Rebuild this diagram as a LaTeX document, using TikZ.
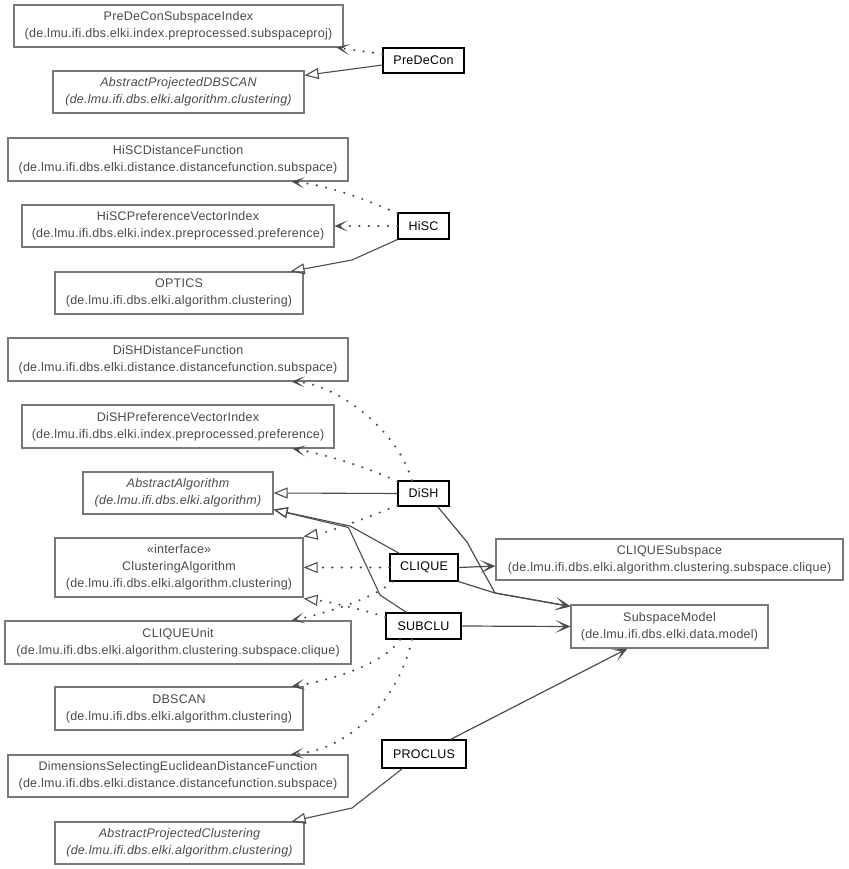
\documentclass[tikz,border=0pt]{standalone}
\usepackage{fontspec}
\setmainfont{Liberation Sans}[LetterSpace=2,Ligatures=NoCommon]
\usetikzlibrary{arrows.meta,calc}
\definecolor{boxgray}{HTML}{787878}
\definecolor{txtgray}{HTML}{4A4A4A}
\definecolor{edgegray}{HTML}{4C4C4C}
\tikzset{
  cls/.style={draw=boxgray, line width=1.2pt, text=txtgray, align=center, inner sep=0pt,
    font=\fontsize{12.5}{17}\selectfont, minimum height=42pt},
  alg/.style={draw=black, line width=1.2pt, text=black, inner sep=0pt,
    font=\fontsize{12.5}{14}\selectfont},
  dep/.style={edgegray, line width=2.4pt, line cap=round, dash pattern=on 0pt off 9.5pt,
    -{Stealth[length=13pt,width=11pt,inset=8pt,line width=0.5pt]}},
  depinh/.style={edgegray, line width=2.4pt, line cap=round, dash pattern=on 0pt off 9.5pt,
    -{Triangle[open,length=14pt,width=11pt,line width=1.1pt]}},
  inh/.style={edgegray, line width=1.1pt, -{Triangle[open,length=14pt,width=11pt,line width=1.1pt]}},
  assoc/.style={edgegray, line width=1.2pt, -{Stealth[length=15pt,width=13pt,inset=9pt]}},
}
\begin{document}
\begin{tikzpicture}[x=1pt,y=-1pt]
\useasboundingbox[fill=white] (0,0) rectangle (848,869);

% class boxes
\node[cls, minimum width=329pt] (psi) at (178.5,26) {PreDeConSubspaceIndex\\(de.lmu.ifi.dbs.elki.index.preprocessed.subspaceproj)};
\node[cls, minimum width=251pt] (apdb) at (178.5,92) {\itshape AbstractProjectedDBSCAN\\\itshape (de.lmu.ifi.dbs.elki.algorithm.clustering)};
\node[cls, minimum width=340pt, minimum height=43pt] (hdf) at (178,159.5) {HiSCDistanceFunction\\(de.lmu.ifi.dbs.elki.distance.distancefunction.subspace)};
\node[cls, minimum width=312pt] (hpvi) at (178,226) {HiSCPreferenceVectorIndex\\(de.lmu.ifi.dbs.elki.index.preprocessed.preference)};
\node[cls, minimum width=248pt] (optics) at (179,293) {OPTICS\\(de.lmu.ifi.dbs.elki.algorithm.clustering)};
\node[cls, minimum width=340pt, minimum height=43pt] (ddf) at (178,359.5) {DiSHDistanceFunction\\(de.lmu.ifi.dbs.elki.distance.distancefunction.subspace)};
\node[cls, minimum width=312pt, minimum height=43pt] (dpvi) at (178,426.5) {DiSHPreferenceVectorIndex\\(de.lmu.ifi.dbs.elki.index.preprocessed.preference)};
\node[cls, minimum width=190pt] (aa) at (178,493) {\itshape AbstractAlgorithm\\\itshape (de.lmu.ifi.dbs.elki.algorithm)};
\node[cls, minimum width=248pt, minimum height=59pt] (ca) at (179,567.5) {«interface»\\ClusteringAlgorithm\\(de.lmu.ifi.dbs.elki.algorithm.clustering)};
\node[cls, minimum width=346pt, minimum height=43pt] (cu) at (178,642.5) {CLIQUEUnit\\(de.lmu.ifi.dbs.elki.algorithm.clustering.subspace.clique)};
\node[cls, minimum width=248pt, minimum height=43pt] (dbscan) at (179,708.5) {DBSCAN\\(de.lmu.ifi.dbs.elki.algorithm.clustering)};
\node[cls, minimum width=340pt] (dsed) at (178,776) {DimensionsSelectingEuclideanDistanceFunction\\(de.lmu.ifi.dbs.elki.distance.distancefunction.subspace)};
\node[cls, minimum width=249pt] (apc) at (179.5,843) {\itshape AbstractProjectedClustering\\\itshape (de.lmu.ifi.dbs.elki.algorithm.clustering)};
\node[cls, minimum width=347pt, minimum height=41pt] (cs) at (669.5,559.5) {CLIQUESubspace\\(de.lmu.ifi.dbs.elki.algorithm.clustering.subspace.clique)};
\node[cls, minimum width=197pt, minimum height=43pt] (sm) at (669.5,626.5) {SubspaceModel\\(de.lmu.ifi.dbs.elki.data.model)};

% algorithm boxes
\node[alg, minimum width=81pt, minimum height=25pt] (predecon) at (423.5,60.5) {PreDeCon};
\node[alg, minimum width=51pt, minimum height=26pt] (hisc) at (423.5,226) {HiSC};
\node[alg, minimum width=51pt, minimum height=25pt] (dish) at (423.5,493.5) {DiSH};
\node[alg, minimum width=68pt, minimum height=27pt] (clique) at (424,567.5) {CLIQUE};
\node[alg, minimum width=75pt, minimum height=26pt] (subclu) at (423.5,626) {SUBCLU};
\node[alg, minimum width=84pt, minimum height=28pt] (proclus) at (424,754) {PROCLUS};

% bend points
\coordinate (b1) at (352,260);
\coordinate (b2) at (350,526);
\coordinate (b3) at (380,595);
\coordinate (b3a) at (348.5,527.5);
\coordinate (b4) at (495,593);
\coordinate (b5) at (467,542);
\coordinate (b6) at (352,808);

% PreDeCon
\draw[dep] ([yshift=6.5pt]predecon.west) -- ([xshift=-7pt]psi.south east);
\draw[inh] ([yshift=-4.5pt]predecon.west) -- ([yshift=-5pt]apdb.north east);

% HiSC
\draw[dep] ([yshift=-1pt]hisc.north west) .. controls +(-25,-11) and +(40,4) .. ([xshift=-57pt]hdf.south east);
\draw[dep] (hisc.west) -- (hpvi.east);
\draw[inh] (hisc.south west) -- (b1) -- ([xshift=-13pt]optics.north east);

% DiSH
\draw[dep] ([xshift=-11.5pt]dish.north) .. controls +(-17,-56) and +(39,1) .. ([xshift=-57pt]ddf.south east);
\draw[dep] ([yshift=-1pt]dish.north west) .. controls +(-25,-12) and +(35,6) .. ([xshift=-42pt]dpvi.south east);
\draw[inh] (dish.west) -- (aa.east);
\draw[depinh] ([yshift=1pt]dish.south west) .. controls +(-20,8) and +(25,-4) .. ([yshift=1pt]ca.north east);
\draw[assoc] ([xshift=-12pt]dish.south east) -- (b5) -- (b4) -- ([yshift=-2pt]sm.north west);

% CLIQUE
\draw[inh] ([xshift=10pt]clique.north west) -- (b2) -- ([yshift=5pt]aa.south east);
\draw[depinh] (clique.west) -- (ca.east);
\draw[dep] ([xshift=3pt]clique.south west) .. controls +(-15,15) and +(35,-7) .. ([xshift=-60pt]cu.north east);
\draw[assoc] (clique.east) -- ([yshift=-6.5pt]cs.west);
\draw[assoc] (clique.south east) -- (b4) -- ([yshift=-2pt]sm.north west);

% SUBCLU
\draw[inh] ([xshift=21pt]subclu.north west) -- (b3) -- (b3a) -- ([yshift=5pt]aa.south east);
\draw[depinh] ([yshift=9pt]subclu.west) .. controls +(-25,-8) and +(25,3) .. ([yshift=-1pt]ca.south east);
\draw[dep] ([xshift=-23.5pt]subclu.south) .. controls +(-17,26) and +(34,-5) .. ([xshift=-12pt]dbscan.north east);
\draw[dep] ([xshift=-11.5pt]subclu.south) .. controls +(-14,61) and +(60,-5) .. ([xshift=-58pt]dsed.north east);
\draw[assoc] (subclu.east) -- (sm.west);

% PROCLUS
\draw[assoc] ([xshift=-16pt]proclus.north east) -- ([xshift=57pt]sm.south west);
\draw[inh] ([xshift=21pt]proclus.south west) -- (b6) -- ([xshift=-13pt]apc.north east);
\end{tikzpicture}
\end{document}
